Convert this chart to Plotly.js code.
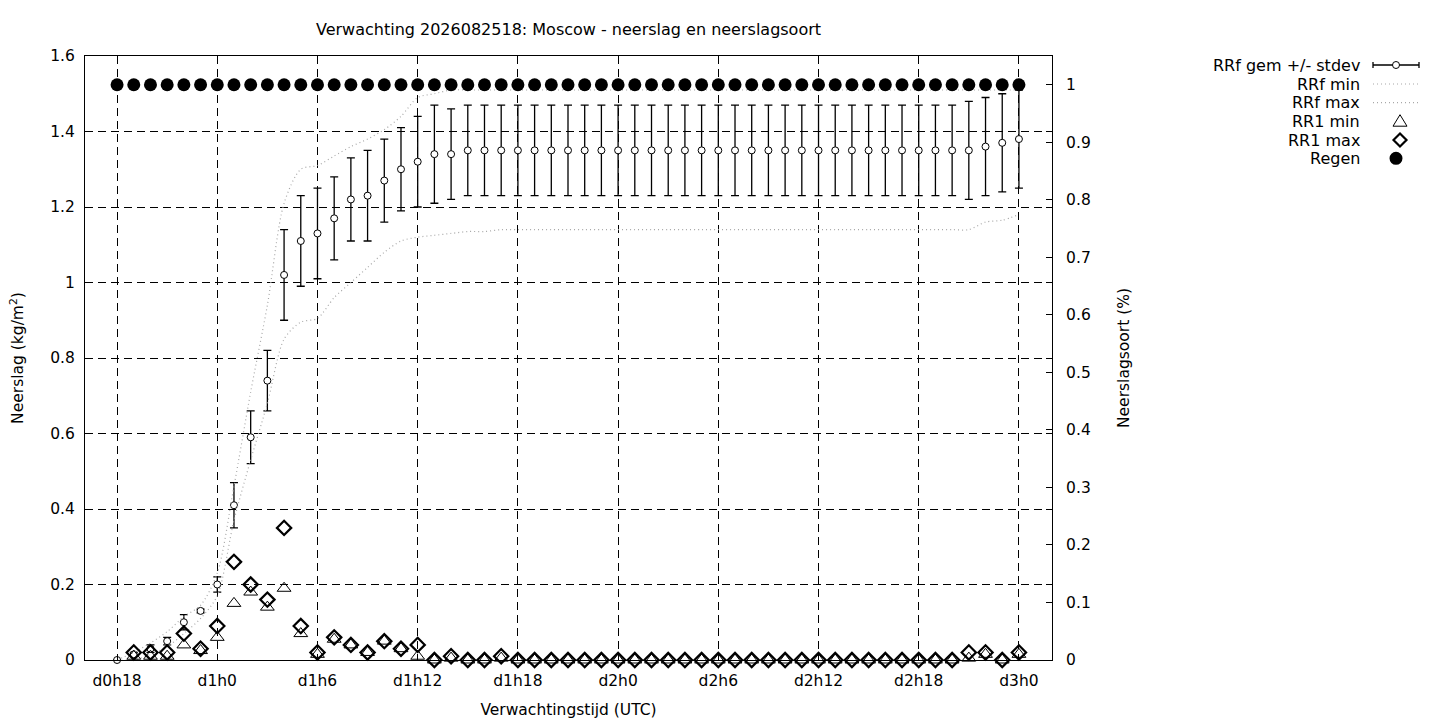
<!DOCTYPE html>
<html>
<head>
<meta charset="utf-8">
<script src="https://cdn.plot.ly/plotly-3.0.1.min.js"></script>
<style>html,body{margin:0;padding:0;background:#fff;}#chart{width:1440px;height:720px;}</style>
</head>
<body>
<div id="chart"></div>
<script>
// ---------- data (hours since forecast base) ----------
const hours = [18,19,20,21,22,23,24,25,26,27,28,29,30,31,32,33,34,35,36,37,38,39,40,41,42,43,44,45,46,47,48,49,50,51,52,53,54,55,56,57,58,59,60,61,62,63,64,65,66,67,68,69,70,71,72];
const tickHours = [18,24,30,36,42,48,54,60,66,72];
const tickLabels = ["d0h18","d1h0","d1h6","d1h12","d1h18","d2h0","d2h6","d2h12","d2h18","d3h0"];
const yTicks = [0,0.2,0.4,0.6,0.8,1,1.2,1.4,1.6];
const yTickLabels = ["0","0.2","0.4","0.6","0.8","1","1.2","1.4","1.6"];
const y2Ticks = [0,0.1,0.2,0.3,0.4,0.5,0.6,0.7,0.8,0.9,1];
const y2TickLabels = ["0","0.1","0.2","0.3","0.4","0.5","0.6","0.7","0.8","0.9","1"];

// RRf gem (mean) and stdev
const rrfMean = [0,0.015,0.03,0.05,0.10,0.13,0.20,0.41,0.59,0.74,1.02,1.11,1.13,1.17,1.22,1.23,1.27,1.30,1.32,1.34,1.34,
  1.35,1.35,1.35,1.35,1.35,1.35,1.35,1.35,1.35,1.35,1.35,1.35,1.35,1.35,1.35,1.35,1.35,1.35,1.35,1.35,1.35,1.35,1.35,1.35,1.35,1.35,1.35,1.35,1.35,1.35,1.35,
  1.36,1.37,1.38];
const rrfStd = [0,0.005,0.01,0.01,0.02,0.005,0.02,0.06,0.07,0.08,0.12,0.12,0.12,0.11,0.11,0.12,0.11,0.11,0.12,0.13,0.12,
  0.12,0.12,0.12,0.12,0.12,0.12,0.12,0.12,0.12,0.12,0.12,0.12,0.12,0.12,0.12,0.12,0.12,0.12,0.12,0.12,0.12,0.12,0.12,0.12,0.12,0.12,0.12,0.12,0.12,0.12,0.13,
  0.13,0.13,0.13];
// RRf min / max
const rrfMin = [0,0,0.015,0.035,0.07,0.11,0.17,0.37,0.53,0.68,0.85,0.895,0.905,0.96,1.00,1.04,1.08,1.11,1.12,1.125,1.13,
  1.135,1.135,1.14,1.14,1.14,1.14,1.14,1.14,1.14,1.14,1.14,1.14,1.14,1.14,1.14,1.14,1.14,1.14,1.14,1.14,1.14,1.14,1.14,1.14,1.14,1.14,1.14,1.14,1.14,1.14,1.14,
  1.16,1.165,1.18];
const rrfMax = [0,0.02,0.045,0.075,0.115,0.145,0.23,0.46,0.71,0.94,1.21,1.30,1.31,1.335,1.36,1.38,1.405,1.44,1.49,1.50,1.51,
  1.51,1.51,1.51,1.51,1.51,1.51,1.51,1.51,1.51,1.51,1.51,1.51,1.51,1.51,1.51,1.51,1.51,1.51,1.51,1.51,1.51,1.51,1.51,1.51,1.51,1.51,1.51,1.51,1.51,1.51,1.51,
  1.51,1.51,1.51];
// RR1 min / max
const rr1Min = [null,0.01,0.01,0.01,0.04,0.025,0.06,0.15,0.18,0.14,0.19,0.07,0.015,0.055,0.04,0.02,0.05,0.03,0.01,0,0.005,
  0,0,0.005,0,0,0,0,0,0,0,0,0,0,0,0,0,0,0,0,0,0,0,0,0,0,0,0,0,0,0,0.005,
  0.015,0,0.015];
const rr1Max = [null,0.02,0.02,0.02,0.07,0.03,0.09,0.26,0.20,0.16,0.35,0.09,0.02,0.06,0.04,0.02,0.05,0.03,0.04,0,0.01,
  0,0,0.01,0,0,0,0,0,0,0,0,0,0,0,0,0,0,0,0,0,0,0,0,0,0,0,0,0,0,0,0.02,
  0.02,0,0.02];
// Regen (neerslagsoort fraction)
const regen = [1,1,1,1,1,1,1,1,1,1,1,1,1,1,1,1,1,1,1,1,1,1,1,1,1,1,1,1,1,1,1,1,1,1,1,1,1,1,1,1,1,1,1,1,1,1,1,1,1,1,1,1,1,1,1];

// ---------- layout helpers ----------
const PL = 85, PR = 1052, PT = 56, PB = 660;
const px = X => (X - PL) / (PR - PL);
const py = Y => (PB - Y) / (PB - PT);
const FONT = "DejaVu Sans, Liberation Sans, sans-serif";
const TICKSIZE = 15.5, TEXTSIZE = 16;

const traces = [
  {name:"RRf gem +/- stdev", x:hours, y:rrfMean, type:"scatter", mode:"markers", cliponaxis:false,
   marker:{symbol:"circle", size:7, color:"#fff", line:{color:"#000", width:1}},
   error_y:{type:"data", array:rrfStd, visible:true, color:"#000", thickness:1.3, width:4}},
  {name:"RRf min", x:hours, y:rrfMin, type:"scatter", mode:"lines",
   line:{color:"#a8a8a8", width:1.2, dash:"1px,3px", shape:"spline", smoothing:0.8}},
  {name:"RRf max", x:hours, y:rrfMax, type:"scatter", mode:"lines",
   line:{color:"#a8a8a8", width:1.2, dash:"1px,3px", shape:"spline", smoothing:0.8}},
  {name:"RR1 min", x:hours, y:rr1Min, type:"scatter", mode:"markers", cliponaxis:false,
   marker:{symbol:"triangle-up-open", size:12, color:"#000", line:{color:"#000", width:1}}},
  {name:"RR1 max", x:hours, y:rr1Max, type:"scatter", mode:"markers", cliponaxis:false,
   marker:{symbol:"diamond-open", size:11, color:"#000", line:{color:"#000", width:2.2}}},
  {name:"Regen", x:hours, y:regen, yaxis:"y2", type:"scatter", mode:"markers", cliponaxis:false,
   marker:{symbol:"circle", size:13, color:"#000", line:{width:0}}}
];

// legend (gnuplot style: text on the left, sample on the right)
const legendRows = [65, 84, 102.7, 121.7, 140, 158.3];
const legendNames = traces.map(t => t.name);
const annotations = legendNames.map((n, i) => ({
  text:n, xref:"paper", yref:"paper", x:px(1362), y:py(legendRows[i]),
  xanchor:"right", yanchor:"middle", showarrow:false, font:{family:FONT, size:TEXTSIZE, color:"#000"}
}));
function pshape(cx, cy, extra) {
  return Object.assign({xref:"paper", yref:"paper", xsizemode:"pixel", ysizemode:"pixel",
    xanchor:px(cx), yanchor:py(cy), layer:"above"}, extra);
}
const shapes = [
  pshape(1396, legendRows[0], {type:"path", path:"M-23,0 L23,0 M-23,-3 L-23,3 M23,-3 L23,3", line:{color:"#000", width:1.3}}),
  pshape(1396, legendRows[0], {type:"circle", x0:-3.5, x1:3.5, y0:-3.5, y1:3.5, fillcolor:"#fff", line:{color:"#000", width:1}}),
  pshape(1396, legendRows[1], {type:"path", path:"M-23,0 L23,0", line:{color:"#a8a8a8", width:1.2, dash:"1px,3px"}}),
  pshape(1396, legendRows[2], {type:"path", path:"M-23,0 L23,0", line:{color:"#a8a8a8", width:1.2, dash:"1px,3px"}}),
  pshape(1400, legendRows[3], {type:"path", path:"M-7,-4.5 L7,-4.5 L0,7 Z", line:{color:"#000", width:1}}),
  pshape(1400, legendRows[4], {type:"path", path:"M-6.5,0 L0,6.5 L6.5,0 L0,-6.5 Z", line:{color:"#000", width:2.2}}),
  pshape(1396, legendRows[5], {type:"circle", x0:-6.5, x1:6.5, y0:-6.5, y1:6.5, fillcolor:"#000", line:{color:"#000", width:0}})
];

const axisCommon = {showline:true, linecolor:"#000", linewidth:1, zeroline:false, ticks:"inside",
  tickcolor:"#000", ticklen:6, tickfont:{family:FONT, size:TICKSIZE, color:"#000"}};

const layout = {
  width:1440, height:720,
  margin:{l:PL, r:1440-PR, t:PT, b:720-PB, pad:0},
  paper_bgcolor:"#fff", plot_bgcolor:"#fff",
  showlegend:false,
  font:{family:FONT, size:TICKSIZE, color:"#000"},
  title:{text:"Verwachting 2026082518: Moscow - neerslag en neerslagsoort", xref:"paper", x:0.5, xanchor:"center",
         yref:"container", y:1-29/720, yanchor:"middle", font:{family:FONT, size:TEXTSIZE, color:"#000"}},
  xaxis:Object.assign({}, axisCommon, {range:[16.08, 73.98], tickmode:"array", tickvals:tickHours, ticktext:tickLabels,
    mirror:"ticks", showgrid:true, gridcolor:"#000", gridwidth:1, griddash:"8px,5px", ticklabelstandoff:6,
    title:{text:"Verwachtingstijd (UTC)", standoff:15, font:{family:FONT, size:TICKSIZE, color:"#000"}}}),
  yaxis:Object.assign({}, axisCommon, {range:[0,1.6], tickmode:"array", tickvals:yTicks, ticktext:yTickLabels,
    mirror:"ticks", showgrid:true, gridcolor:"#000", gridwidth:1, griddash:"8px,5px", ticklabelstandoff:6,
    title:{text:"Neerslag (kg/m<sup>2</sup>)", standoff:22, font:{family:FONT, size:TICKSIZE, color:"#000"}}}),
  yaxis2:Object.assign({}, axisCommon, {overlaying:"y", side:"right", range:[0,1.05], tickmode:"array",
    tickvals:y2Ticks, ticktext:y2TickLabels, showgrid:false, ticklabelstandoff:10,
    title:{text:"Neerslagsoort (%)", standoff:28, font:{family:FONT, size:TICKSIZE, color:"#000"}}}),
  annotations:annotations,
  shapes:shapes
};

Plotly.newPlot("chart", traces, layout, {displayModeBar:false, staticPlot:true});
</script>
</body>
</html>
